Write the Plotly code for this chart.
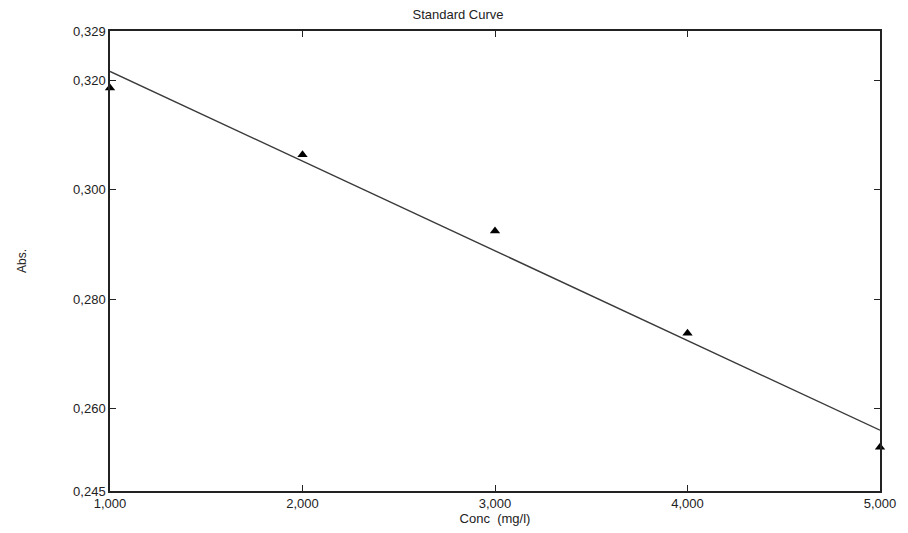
import numpy as np
import plotly.graph_objects as go

conc = [1.0, 2.0, 3.0, 4.0, 5.0]
absorb = [0.3186, 0.3064, 0.2925, 0.2738, 0.2530]
x_ticks = [1.0, 2.0, 3.0, 4.0, 5.0]
x_ticktext = ["1,000", "2,000", "3,000", "4,000", "5,000"]
y_ticks = [0.245, 0.260, 0.280, 0.300, 0.320, 0.329]
y_ticktext = ["0,245", "0,260", "0,280", "0,300", "0,320", "0,329"]

slope, intercept = np.polyfit(conc, absorb, 1)
fit_x = [conc[0], conc[-1]]
fit_y = [slope * v + intercept for v in fit_x]

fig = go.Figure()
fig.add_trace(go.Scatter(x=fit_x, y=fit_y, mode="lines",
                         line=dict(color="#3a3a3a", width=1.4), showlegend=False,
                         cliponaxis=False))
fig.add_trace(go.Scatter(x=conc, y=absorb, mode="markers",
                         marker=dict(symbol="triangle-up", size=9, color="black"),
                         showlegend=False, cliponaxis=False))

font = dict(family="Liberation Sans", size=13, color="#222")
axis_common = dict(showgrid=False, zeroline=False, showline=True, linecolor="#222",
                   linewidth=1.5, mirror="ticks", ticks="inside", ticklen=6,
                   tickcolor="#222", tickfont=font)
fig.update_xaxes(range=[1.0, 5.0], tickvals=x_ticks, ticktext=x_ticktext,
                 title=dict(text="Conc  (mg/l)", standoff=0, font=font),
                 **axis_common)
fig.update_yaxes(range=[0.245, 0.329], tickvals=y_ticks, ticktext=y_ticktext,
                 title=dict(text="Abs.", standoff=44,
                            font=dict(family="Liberation Sans", size=12, color="#222")),
                 **axis_common)
fig.update_layout(
    width=900, height=525,
    margin=dict(l=102, r=19, t=23, b=42),
    paper_bgcolor="white", plot_bgcolor="white",
    title=dict(text="Standard Curve", x=0.5, xanchor="center", y=0.987, yanchor="middle",
               font=font),
)
fig.write_html("out.html")
